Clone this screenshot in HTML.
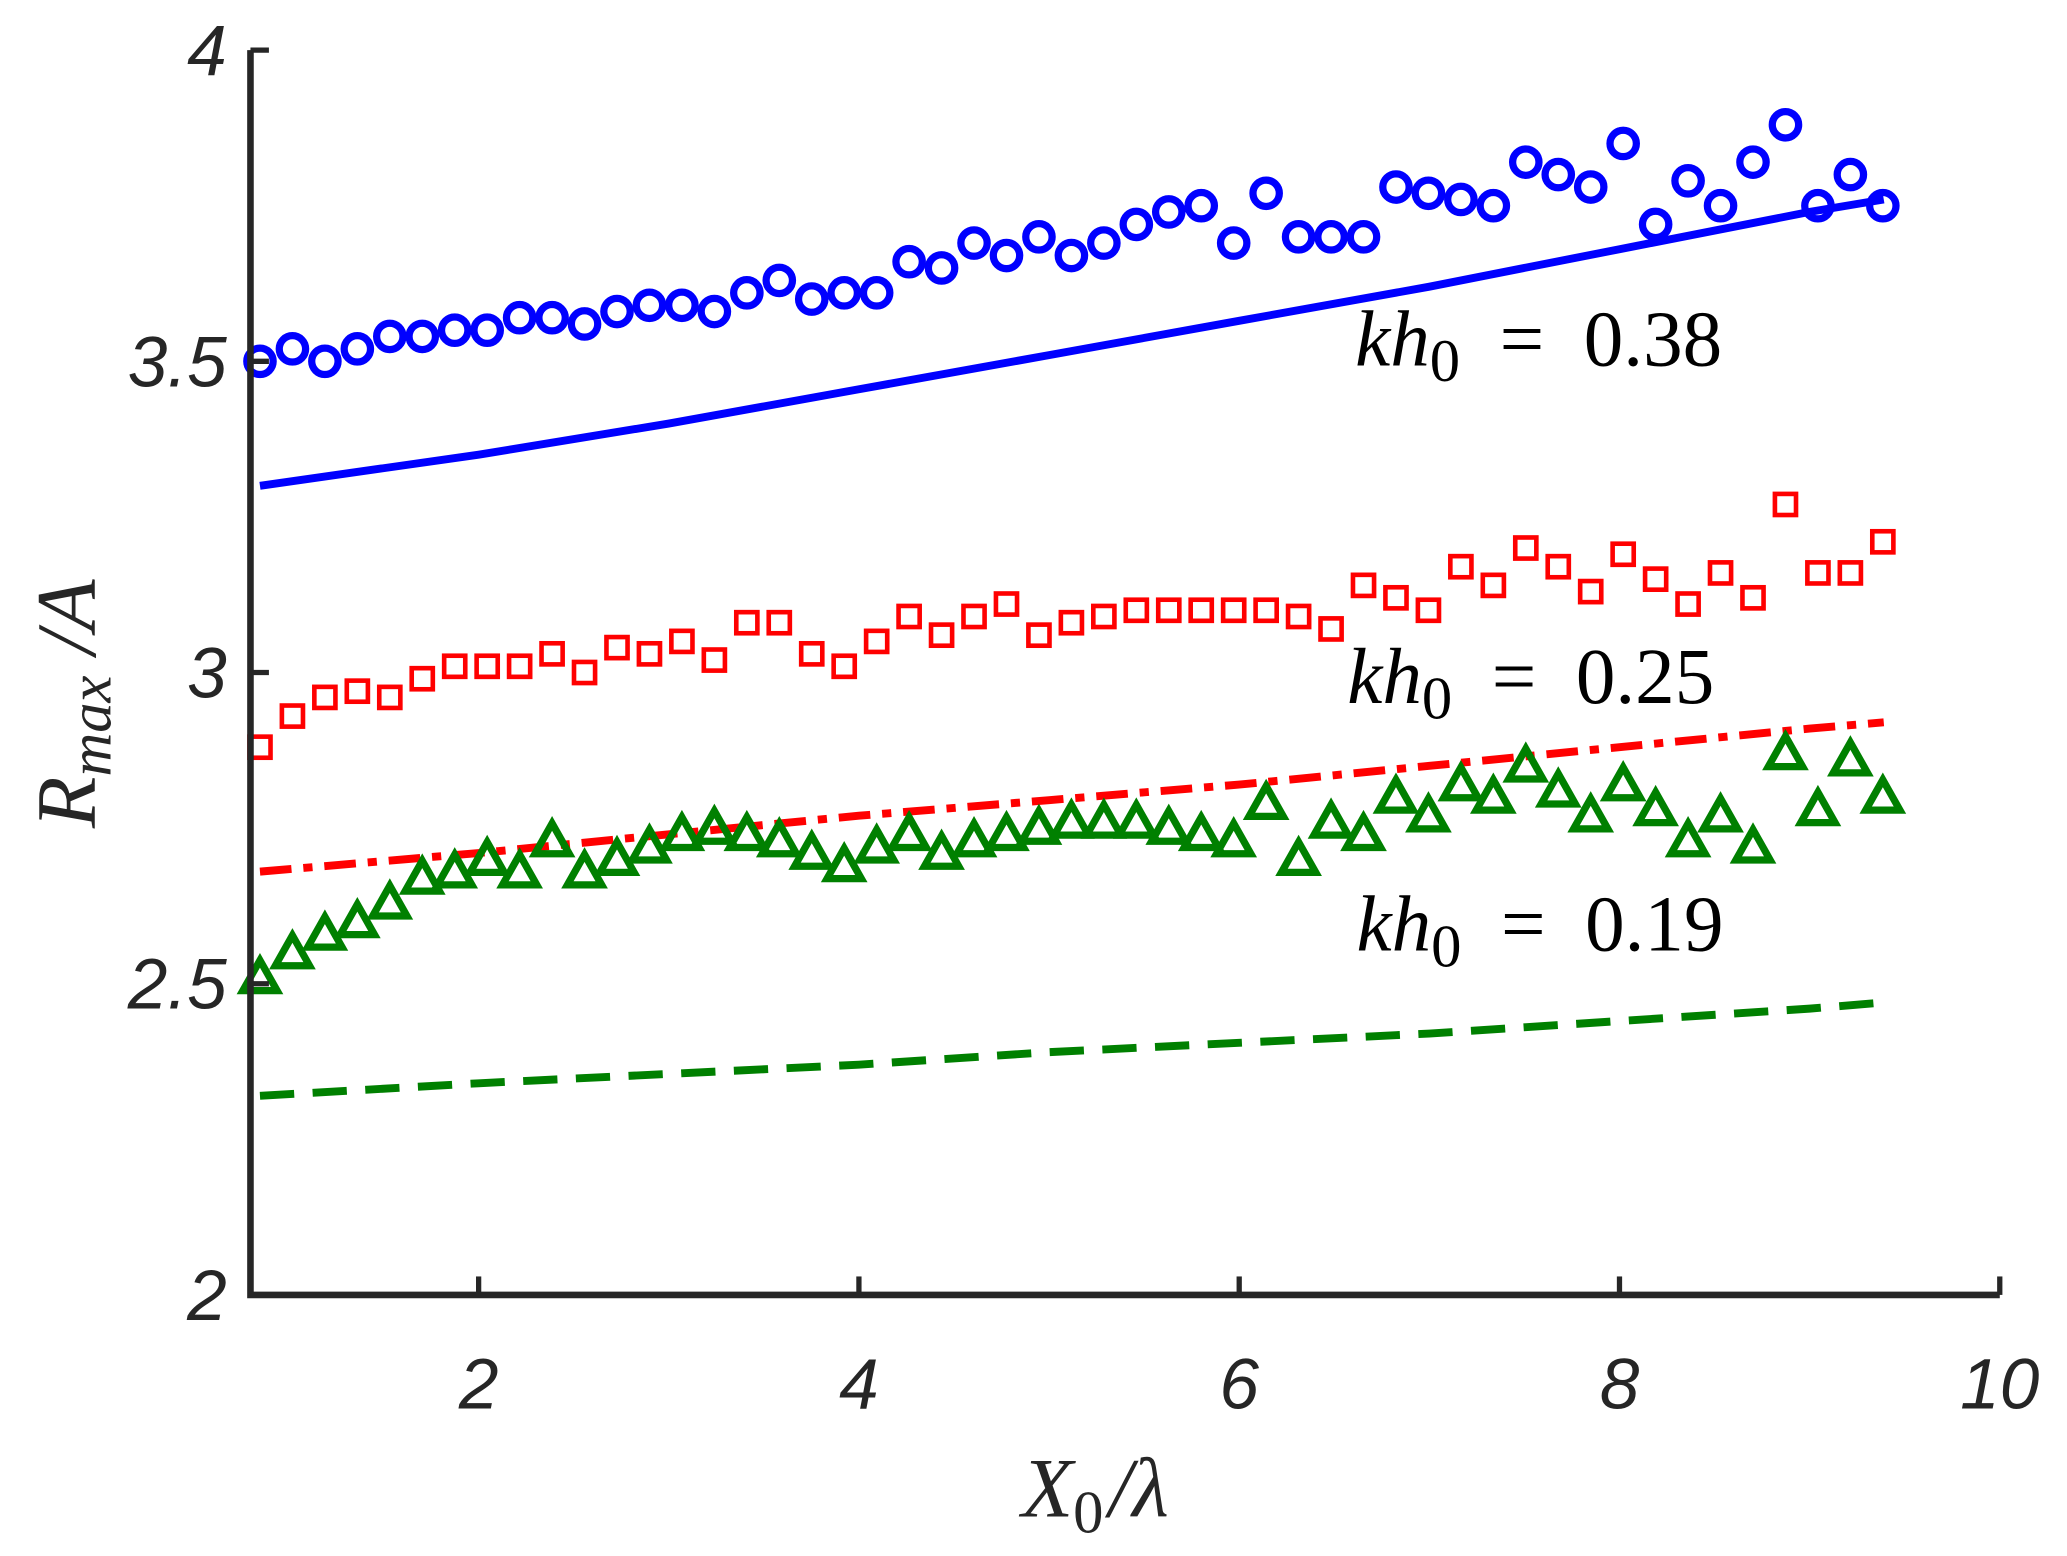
<!DOCTYPE html>
<html><head><meta charset="utf-8"><style>
html,body{margin:0;padding:0;background:#fff;}
svg{display:block;}
</style></head><body>
<svg id="chart" width="2067" height="1556" viewBox="0 0 1568 1180" preserveAspectRatio="none" xmlns="http://www.w3.org/2000/svg">
<rect width="1568" height="1180" fill="#fff"/>
<g id="plot"></g>
</svg>
<script>
const xTicks = [2, 4, 6, 8, 10];
const yTicks = [2, 2.5, 3, 3.5, 4];
const yTickLabels = ["2", "2.5", "3", "3.5", "4"];
const markerX0 = 0.85;
const markerDx = 0.1707;
const blueCircles = [3.50,3.52,3.50,3.52,3.54,3.54,3.55,3.55,3.57,3.57,3.56,3.58,3.59,3.59,3.58,3.61,3.63,3.60,3.61,3.61,3.66,3.65,3.69,3.67,3.70,3.67,3.69,3.72,3.74,3.75,3.69,3.77,3.70,3.70,3.70,3.78,3.77,3.76,3.75,3.82,3.80,3.78,3.85,3.72,3.79,3.75,3.82,3.88,3.75,3.80,3.75];
const redSquares = [2.88,2.93,2.96,2.97,2.96,2.99,3.01,3.01,3.01,3.03,3.00,3.04,3.03,3.05,3.02,3.08,3.08,3.03,3.01,3.05,3.09,3.06,3.09,3.11,3.06,3.08,3.09,3.10,3.10,3.10,3.10,3.10,3.09,3.07,3.14,3.12,3.10,3.17,3.14,3.20,3.17,3.13,3.19,3.15,3.11,3.16,3.12,3.27,3.16,3.16,3.21];
const greenTriangles = [2.51,2.55,2.58,2.60,2.63,2.67,2.68,2.70,2.68,2.73,2.68,2.70,2.72,2.74,2.75,2.74,2.73,2.71,2.69,2.72,2.74,2.71,2.73,2.74,2.75,2.76,2.76,2.76,2.75,2.74,2.73,2.79,2.70,2.76,2.74,2.80,2.77,2.82,2.80,2.85,2.81,2.77,2.82,2.78,2.73,2.77,2.72,2.87,2.78,2.86,2.80];
const theoryX = [0.85, 2, 3, 4, 5, 6, 7, 8, 9, 9.39];
const blueTheory = [3.30,3.35,3.40,3.455,3.51,3.565,3.62,3.68,3.74,3.76];
const redTheory = [2.68,2.71,2.74,2.77,2.795,2.82,2.85,2.88,2.91,2.92];
const greenTheory = [2.32,2.34,2.355,2.37,2.39,2.405,2.42,2.44,2.46,2.47];

const NS = "http://www.w3.org/2000/svg";
const L = 190, R = 1517, T = 38, B = 982;
const xMin = 0.8, xMax = 10, yMin = 2, yMax = 4;
function sx(v){ return L + (v - xMin) / (xMax - xMin) * (R - L); }
function sy(v){ return B - (v - yMin) / (yMax - yMin) * (B - T); }
const g = document.getElementById('plot');
function mk(tag, attrs){ const e = document.createElementNS(NS, tag); for (const k in attrs) e.setAttribute(k, attrs[k]); g.appendChild(e); return e; }

function line(xs, ys, color, dash, name){
  const d = xs.map((x,i)=>(i?'L':'M')+sx(x).toFixed(1)+' '+sy(ys[i]).toFixed(1)).join(' ');
  const p = mk('path', {d:d, fill:'none', stroke:color, 'stroke-width':6, 'stroke-dasharray':dash, 'stroke-linejoin':'round'});
  
  
}
line(theoryX, blueTheory, '#0000ff', 'none', 'theory-line-kh038');
line(theoryX, redTheory, '#ff0000', '24 9 7 9', 'theory-line-kh025');
line(theoryX, greenTheory, '#008000', '26 14', 'theory-line-kh019');

blueCircles.forEach((v,i)=>{
  const c = mk('circle', {cx:sx(markerX0+i*markerDx), cy:sy(v), r:10, fill:'none', stroke:'#0000ff', 'stroke-width':5.5});
  
  
});
redSquares.forEach((v,i)=>{
  const x = sx(markerX0+i*markerDx), y = sy(v);
  const s = mk('rect', {x:x-8, y:y-8, width:16, height:16, fill:'none', stroke:'#ff0000', 'stroke-width':3.5});
  
  
});
greenTriangles.forEach((v,i)=>{
  const x = sx(markerX0+i*markerDx), y = sy(v);
  const t = mk('polygon', {points:`${x},${y-13} ${x-13},${y+10} ${x+13},${y+10}`, fill:'none', stroke:'#008000', 'stroke-width':5.5});
  
  
});

const ax = mk('path', {d:`M${L} ${T} L${L} ${B} L${R} ${B}`, fill:'none', stroke:'#262626', 'stroke-width':5});


xTicks.forEach(v=>{
  const x = sx(v);
  const tk = mk('line', {x1:x, y1:B, x2:x, y2:B-14, stroke:'#262626', 'stroke-width':4});
  
  
  const tl = mk('text', {x:x, y:B+86, 'text-anchor':'middle', 'font-family':'Liberation Sans, sans-serif', 'font-style':'italic', 'font-size':54, fill:'#262626'});
  tl.textContent = String(v);
  
  
});
yTicks.forEach((v,i)=>{
  const y = sy(v);
  const tk = mk('line', {x1:L, y1:y, x2:L+14, y2:y, stroke:'#262626', 'stroke-width':4});
  
  
  const tl = mk('text', {x:L-18, y:y+19, 'text-anchor':'end', 'font-family':'Liberation Sans, sans-serif', 'font-style':'italic', 'font-size':54, fill:'#262626'});
  tl.textContent = yTickLabels[i];
  
  
});

function label(x, y, val, name){
  const t = mk('text', {x:x, y:y, 'font-family':'Liberation Serif, serif', 'font-size':60, fill:'#000'});
  t.innerHTML = `<tspan font-style="italic">kh</tspan><tspan font-size="46" dy="12">0</tspan><tspan dy="-12" xml:space="preserve">  =  ${val}</tspan>`;
  t.setAttribute('xml:space', 'preserve');
  
  
}
label(1028, 277, '0.38', 'label-kh038');
label(1022, 533, '0.25', 'label-kh025');
label(1029, 721, '0.19', 'label-kh019');

const xt = mk('text', {x:775, y:1150, 'font-family':'Liberation Serif, serif', 'font-style':'italic', 'font-size':64, fill:'#262626'});
xt.innerHTML = 'X<tspan font-style="normal" font-size="46" dy="12">0</tspan><tspan dy="-12" dx="4">/λ</tspan>';



const yt = mk('text', {x:0, y:0, transform:'translate(72,628) rotate(-90)', 'font-family':'Liberation Serif, serif', 'font-style':'italic', 'font-size':64, fill:'#262626'});
yt.innerHTML = 'R<tspan font-size="46" dy="12">max</tspan><tspan dy="-12"> /A</tspan>';


</script>
</body></html>
